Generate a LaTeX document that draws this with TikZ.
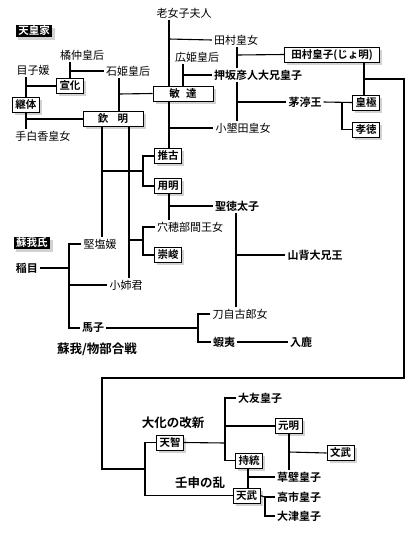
\documentclass[tikz,border=0pt]{standalone}
\usepackage{fontspec}
\setmainfont{Noto Sans CJK JP}[BoldFont={Noto Sans CJK JP Bold}]
\usetikzlibrary{shadows,calc}

\begin{document}
\begin{tikzpicture}[
    x=1pt, y=-1pt,
    ruler/.style={rectangle, draw=black, fill=white, line width=0.9pt, minimum height=15pt, inner xsep=3pt, inner ysep=1pt, text height=8.5pt, text depth=1.5pt, font=\fontsize{10.5}{12}\selectfont\bfseries, drop shadow={shadow xshift=2.5pt, shadow yshift=-2.5pt, fill=black!35}},
    person/.style={inner sep=2pt, font=\fontsize{11}{13}\selectfont},
    heir/.style={inner sep=2pt, font=\fontsize{11}{13}\selectfont\bfseries},
    clan/.style={rectangle, fill=black, text=white, inner xsep=2.5pt, inner ysep=1pt, text height=8.5pt, text depth=1.5pt, font=\fontsize{10.5}{12}\selectfont\bfseries, drop shadow={shadow xshift=2.5pt, shadow yshift=-2.5pt, fill=black!35}},
    event/.style={font=\fontsize{12.5}{14}\selectfont\bfseries},
    link/.style={line width=1.1pt}
]
\useasboundingbox (0,0) rectangle (419,536);

% Clans
\node[clan] (house) at (34,31) {天皇家};
\node[clan] (soga) at (32,243) {蘇我氏};

% Emperors
\node[ruler] (senka) at (70,86) {宣化};
\node[ruler] (keitai) at (26,105) {継体};
\node[ruler, minimum width=60pt] (kinmei) at (113,119) {欽\hspace{0.9em}明};
\node[ruler, minimum width=60pt] (bidatsu) at (183,93.5) {敏\hspace{0.6em}達};
\node[ruler, minimum width=95pt] (jomei) at (332,54.5) {田村皇子(じょ明)};
\node[ruler] (kogyoku) at (366,102.5) {皇極};
\node[ruler] (kotoku) at (366,129.5) {孝徳};
\node[ruler] (suiko) at (168,156) {推古};
\node[ruler] (yomei) at (168,186) {用明};
\node[ruler] (sushun) at (168,255) {崇峻};
\node[ruler] (genmei) at (288.5,426) {元明};
\node[ruler] (tenji) at (170,442.5) {天智};
\node[ruler] (monmu) at (340.5,453) {文武};
\node[ruler] (jito) at (249,460.5) {持統};
\node[ruler] (tenmu) at (246.5,495.5) {天武};

% Other members
\node[person] (rojo) at (184,13) {老女子夫人};
\node[person] (tachibana) at (82,55) {橘仲皇后};
\node[person] (mekohime) at (33,70) {目子媛};
\node[person] (ishihime) at (128,71) {石姫皇后};
\node[person] (tashiraka) at (43,136) {手白香皇女};
\node[person] (tamura) at (236,40) {田村皇女};
\node[person] (hirohime) at (197,57) {広姫皇后};
\node[heir] (oshisaka) at (258,75) {押坂彦人大兄皇子};
\node[heir] (chinu) at (305,102) {茅渟王};
\node[person] (owarida) at (243,128) {小墾田皇女};
\node[heir] (shotoku) at (237,206) {聖徳太子};
\node[person] (anahobe) at (190,227) {穴穂部間王女};
\node[heir] (yamashiro) at (315,255) {山背大兄王};
\node[person] (kitashi) at (100,244) {堅塩媛};
\node[heir] (iname) at (27,268) {稲目};
\node[person] (oane) at (126,285) {小姉君};
\node[heir] (umako) at (93,328) {馬子};
\node[person] (tojiko) at (240,314) {刀自古郎女};
\node[heir] (emishi) at (224,342) {蝦夷};
\node[heir] (iruka) at (301,342) {入鹿};
\node[heir] (otomo) at (260,398) {大友皇子};
\node[heir] (kusakabe) at (299,477) {草壁皇子};
\node[heir] (takechi) at (299,497) {高市皇子};
\node[heir] (otsu) at (299,516) {大津皇子};

% Events
\node[event] (war) at (97,349) {蘇我/物部合戦};
\node[event] (taika) at (173,423) {大化の改新};
\node[event] (jinshin) at (200,483) {壬申の乱};

% Junctions
\coordinate (m1) at (119,94);
\coordinate (m2) at (169,39);
\coordinate (m3) at (183,75);
\coordinate (m4) at (237,55);
\coordinate (m5) at (237,102);
\coordinate (m6) at (364,79);
\coordinate (m7) at (102,171);
\coordinate (m8) at (129,240);
\coordinate (m9) at (169,128);
\coordinate (m10) at (169,206);
\coordinate (m11) at (236,255);
\coordinate (m12) at (248,477);
\coordinate (m13) at (289,452);
\coordinate (b1) at (342,102);
\coordinate (b2) at (145,469);
\coordinate (b3) at (143,171);
\coordinate (b4) at (143,240);
\coordinate (b5) at (69,268);
\coordinate (b6) at (198,328);
\coordinate (b7) at (225,443);
\coordinate (b8) at (265,497);
\coordinate (r2) at (404,378);
\coordinate (r3) at (102,378);

% Marriages and children
\draw[link] (senka.north) -- (senka.north |- tachibana.south);
\draw[link] (senka.north |- ishihime.west) -- (ishihime.west);
\draw[link] (keitai.north) -- (keitai.north |- mekohime.south);
\draw[link] (keitai.north |- senka.west) -- (senka.west);
\draw[link] (keitai.south) -- (keitai.south |- tashiraka.north);
\draw[link] (keitai.south |- kinmei.west) -- (kinmei.west);
\draw[link] (ishihime.south -| m1) -- (kinmei.north -| m1);
\draw[link] (m1) -- (bidatsu.west);
\draw[link] (rojo.south -| m2) -- (bidatsu.north -| m2);
\draw[link] (m2) -- (tamura.west);
\draw[link] (hirohime.south -| m3) -- (bidatsu.north -| m3);
\draw[link] (m3) -- (oshisaka.west);
\draw[link] (tamura.south -| m4) -- (oshisaka.north -| m4);
\draw[link] (m4) -- (jomei.west);
\draw[link] (oshisaka.south -| m5) -- (owarida.north -| m5);
\draw[link] (m5) -- (chinu.west);
\draw[link] (chinu.east) -- (kogyoku.west);
\draw[link] (b1) |- (kotoku.west);
\draw[link] (jomei.south -| m6) -- (kogyoku.north -| m6);
\draw[link] (m6) -| (r2) -- (r3) |- (b2);
\draw[link] (tenji.west) -| (b2) |- (tenmu.west);
\draw[link] (kinmei.south -| m7) -- (kitashi.north -| m7);
\draw[link] (m7) -- (b3);
\draw[link] (suiko.west) -| (b3) |- (yomei.west);
\draw[link] (kinmei.south -| m8) -- (oane.north -| m8);
\draw[link] (m8) -- (b4);
\draw[link] (anahobe.west) -| (b4) |- (sushun.west);
\draw[link] (bidatsu.south -| m9) -- (suiko.north -| m9);
\draw[link] (m9) -- (owarida.west);
\draw[link] (yomei.south -| m10) -- (anahobe.north -| m10);
\draw[link] (m10) -- (shotoku.west);
\draw[link] (shotoku.south -| m11) -- (tojiko.north -| m11);
\draw[link] (m11) -- (yamashiro.west);
\draw[link] (iname.east) -- (b5);
\draw[link] (kitashi.west) -| (b5) |- (umako.west);
\draw[link] (oane.west -| b5) -- (oane.west);
\draw[link] (umako.east) -- (b6);
\draw[link] (tojiko.west) -| (b6) |- (emishi.west);
\draw[link] (emishi.east) -- (iruka.west);
\draw[link] (tenji.east) -- (b7);
\draw[link] (otomo.west) -| (b7) |- (jito.west);
\draw[link] (b7 |- genmei.west) -- (genmei.west);
\draw[link] (jito.south -| m12) -- (tenmu.north -| m12);
\draw[link] (m12) -- (kusakabe.west);
\draw[link] (genmei.south -| m13) -- (kusakabe.north -| m13);
\draw[link] (m13) -- (monmu.west);
\draw[link] (tenmu.east) -- (b8);
\draw[link] (takechi.west) -| (b8) |- (otsu.west);

\end{tikzpicture}
\end{document}
